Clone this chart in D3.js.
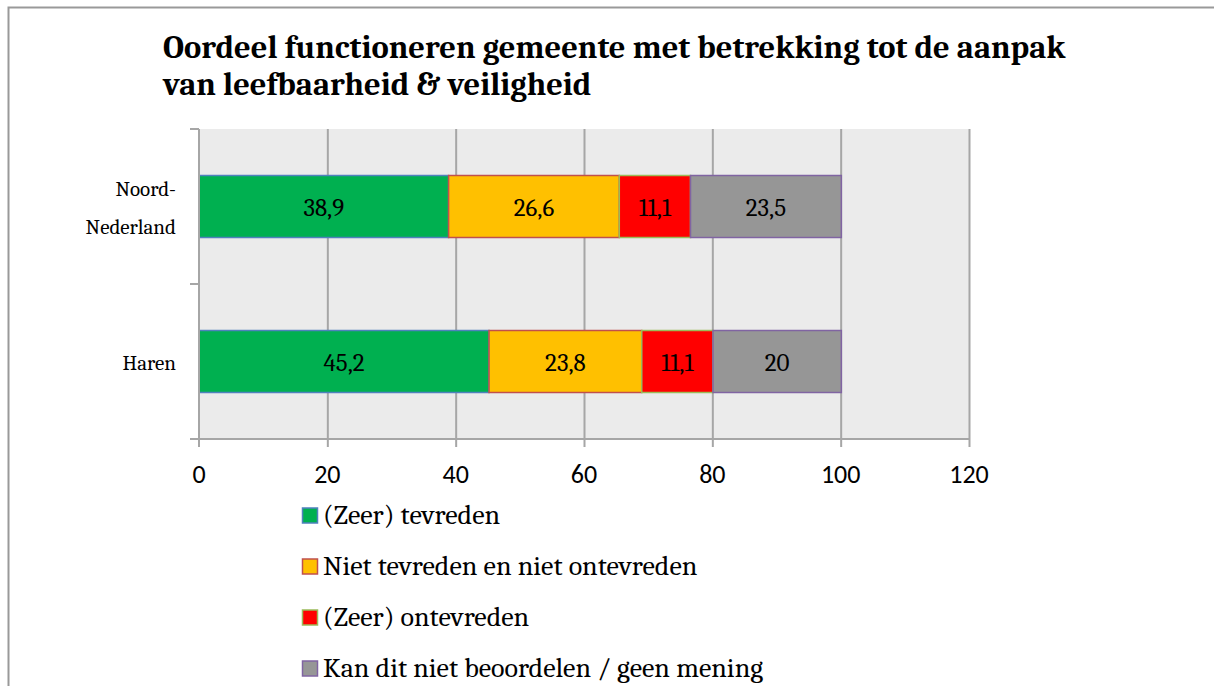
<!DOCTYPE html>
<html>
<head>
<meta charset="utf-8">
<script src="https://cdn.jsdelivr.net/npm/d3@7"></script>
<style>
  body { margin: 0; background: #fff; }
  svg { display: block; }
</style>
</head>
<body>
<div id="chart"></div>
<script>
// gegevens
const categories = ['Noord-Nederland', 'Haren'];
const categoryLines = [['Noord-', 'Nederland'], ['Haren']];
const seriesNames = [
    '(Zeer) tevreden',
    'Niet tevreden en niet ontevreden',
    '(Zeer) ontevreden',
    'Kan dit niet beoordelen / geen mening'
];
const seriesValues = [
    [38.9, 45.2],
    [26.6, 23.8],
    [11.1, 11.1],
    [23.5, 20]
];
const xTicks = [0, 20, 40, 60, 80, 100, 120];

const fills = ['#00b050', '#ffc000', '#ff0000', '#969696'];
const strokes = ['#4f81bd', '#c0504d', '#9bbb59', '#8064a2'];

const serif = 'Cambria, "DejaVu Serif", serif';
const sans = 'Calibri, "Liberation Sans", Arial, sans-serif';

const width = 1214, height = 686;
const plot = { left: 199, right: 969, top: 129, bottom: 439 };

const svg = d3.select('#chart').append('svg')
    .attr('width', width)
    .attr('height', height);

// kader
svg.append('path')
    .attr('d', `M8.5,${height} V7.5 H${width}`)
    .attr('fill', 'none')
    .attr('stroke', '#999')
    .attr('stroke-width', 2);

// titel
const title = svg.append('text')
    .attr('font-family', serif)
    .attr('font-weight', 'bold')
    .attr('font-size', 32.5)
    .attr('fill', '#000');
title.append('tspan').attr('x', 163).attr('y', 58)
    .text('Oordeel functioneren gemeente met betrekking tot de aanpak');
title.append('tspan').attr('x', 163).attr('y', 95)
    .text('van leefbaarheid & veiligheid');

const x = d3.scaleLinear().domain([0, 120]).range([plot.left, plot.right]);
const y = d3.scaleBand().domain(categories).range([plot.top, plot.bottom]).paddingInner(0.6).paddingOuter(0.3);

// achtergrond
svg.append('rect')
    .attr('x', plot.left).attr('y', plot.top)
    .attr('width', plot.right - plot.left)
    .attr('height', plot.bottom - plot.top)
    .attr('fill', '#ebebeb');

// rasterlijnen
svg.append('g')
    .selectAll('line')
    .data(xTicks.slice(1))
    .enter().append('line')
    .attr('x1', d => x(d) + 0.5).attr('x2', d => x(d) + 0.5)
    .attr('y1', plot.top).attr('y2', plot.bottom + 8)
    .attr('stroke', '#a6a6a6')
    .attr('stroke-width', 2);

// gestapelde balken
const stacked = categories.map((c, i) => {
    let acc = 0;
    return seriesValues.map((s, k) => {
        const d = { cat: c, k: k, v: s[i], x0: acc, x1: acc + s[i] };
        acc += s[i];
        return d;
    });
}).flat();

const bars = svg.append('g').selectAll('g')
    .data(stacked)
    .enter().append('g');

bars.append('rect')
    .attr('x', d => x(d.x0))
    .attr('y', d => y(d.cat))
    .attr('width', d => x(d.x1) - x(d.x0))
    .attr('height', y.bandwidth())
    .attr('fill', d => fills[d.k])
    .attr('stroke', d => strokes[d.k])
    .attr('stroke-width', 1.5);

bars.append('text')
    .attr('x', d => (x(d.x0) + x(d.x1)) / 2)
    .attr('y', d => y(d.cat) + y.bandwidth() / 2 + 9)
    .attr('text-anchor', 'middle')
    .attr('font-family', serif)
    .attr('font-size', 25)
    .attr('fill', '#000')
    .text(d => String(d.v).replace('.', ','));

// assen
const axisColor = '#a6a6a6';
svg.append('line')
    .attr('x1', plot.left).attr('x2', plot.left)
    .attr('y1', plot.top).attr('y2', plot.bottom + 8)
    .attr('stroke', axisColor).attr('stroke-width', 2);
svg.append('line')
    .attr('x1', plot.left - 9).attr('x2', plot.right)
    .attr('y1', plot.bottom).attr('y2', plot.bottom)
    .attr('stroke', axisColor).attr('stroke-width', 2);

const catTicks = [plot.top, plot.top + (plot.bottom - plot.top) / 2, plot.bottom];
svg.append('g').selectAll('line')
    .data(catTicks)
    .enter().append('line')
    .attr('x1', plot.left - 9).attr('x2', plot.left)
    .attr('y1', d => d).attr('y2', d => d)
    .attr('stroke', axisColor).attr('stroke-width', 2);

// x-as labels
svg.append('g').selectAll('text')
    .data(xTicks)
    .enter().append('text')
    .attr('x', d => x(d))
    .attr('y', 483)
    .attr('text-anchor', 'middle')
    .attr('font-family', sans)
    .attr('font-size', 26)
    .attr('fill', '#000')
    .text(d => d);

// categorie labels
categories.forEach((c, i) => {
    const lines = categoryLines[i];
    const mid = y(c) + y.bandwidth() / 2;
    const t = svg.append('text')
        .attr('text-anchor', 'end')
        .attr('font-family', serif)
        .attr('font-size', 21)
        .attr('fill', '#000');
    lines.forEach((l, j) => {
        t.append('tspan')
            .attr('x', 176)
            .attr('y', mid + 8 + (j - (lines.length - 1) / 2) * 38)
            .text(l);
    });
});

// legenda
const legend = svg.append('g').selectAll('g')
    .data(seriesNames)
    .enter().append('g')
    .attr('transform', (d, i) => `translate(302,${524 + i * 51})`);

legend.append('rect')
    .attr('x', 0.5).attr('y', -16)
    .attr('width', 15).attr('height', 15)
    .attr('fill', (d, i) => fills[i])
    .attr('stroke', (d, i) => strokes[i])
    .attr('stroke-width', 1.5);

legend.append('text')
    .attr('x', 21)
    .attr('y', 0)
    .attr('font-family', serif)
    .attr('font-size', 28)
    .attr('fill', '#000')
    .text(d => d);
</script>
</body>
</html>
